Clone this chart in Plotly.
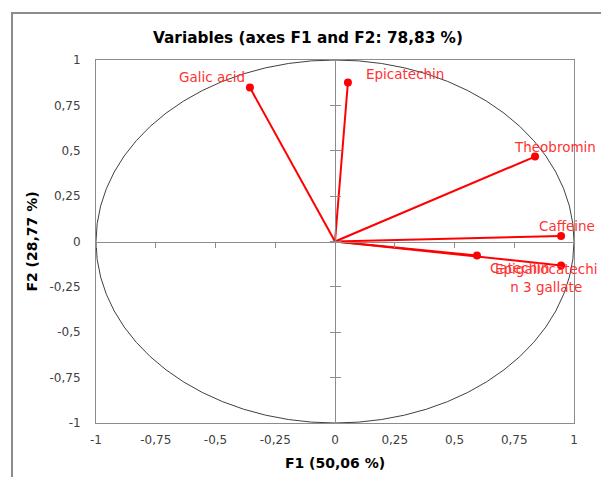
import plotly.graph_objects as go

variables = ["Galic acid", "Epicatechin", "Theobromin", "Caffeine", "Catechin",
             "Epigallocatechi<br>n 3 gallate"]
f1 = [-0.356, 0.054, 0.837, 0.946, 0.594, 0.946]
f2 = [0.848, 0.876, 0.468, 0.030, -0.077, -0.132]

# label offsets (pixels) relative to each point – styling only
label_dx = [-38, 57, 20, 6, 43, -15]
label_dy = [11, 9, 10, 10, -13, -13]

tick_vals = [-1, -0.75, -0.5, -0.25, 0, 0.25, 0.5, 0.75, 1]
tick_text = ["-1", "-0,75", "-0,5", "-0,25", "0", "0,25", "0,5", "0,75", "1"]

title_text = "Variables (axes F1 and F2: 78,83 %)"
x_title = "F1 (50,06 %)"
y_title = "F2 (28,77 %)"

RED = "#ff0000"
GRAY = "#8c8c8c"
FONT = "DejaVu Sans"

# vectors from origin
vx, vy = [], []
for a, b in zip(f1, f2):
    vx += [0, a, None]
    vy += [0, b, None]

fig = go.Figure()
fig.add_trace(go.Scatter(x=vx, y=vy, mode="lines", line=dict(color=RED, width=2),
                         hoverinfo="skip", showlegend=False))
fig.add_trace(go.Scatter(x=f1, y=f2, mode="markers",
                         marker=dict(color=RED, size=8), cliponaxis=False,
                         showlegend=False))
# helper traces so the centred tick axes are drawn
fig.add_trace(go.Scatter(x=[None], y=[None], xaxis="x2", yaxis="y2", showlegend=False))
fig.add_trace(go.Scatter(x=[None], y=[None], xaxis="x2", yaxis="y3", showlegend=False))

for name, a, b, dx, dy in zip(variables, f1, f2, label_dx, label_dy):
    fig.add_annotation(x=a, y=b, text=name, showarrow=False, xanchor="center",
                       yanchor="middle", xshift=dx, yshift=dy,
                       font=dict(family=FONT, size=13.5, color="#ff3333"))

# unit correlation circle
fig.add_shape(type="circle", xref="x", yref="y", x0=-1, y0=-1, x1=1, y1=1,
              line=dict(color="#404040", width=1), layer="below")
# outer chart border
fig.add_shape(type="rect", xref="paper", yref="paper", x0=-0.1757, y0=-0.4,
              x1=1.3, y1=1.1295, line=dict(color=GRAY, width=2), layer="below")

axis_common = dict(range=[-1, 1], tickvals=tick_vals, ticktext=tick_text,
                   showgrid=False, zeroline=False, showline=True, linecolor=GRAY,
                   linewidth=1, mirror=True, automargin=False,
                   tickfont=dict(family=FONT, size=12, color="#404040"))

fig.update_layout(
    width=601, height=477,
    margin=dict(l=96, r=27, t=60, b=54, autoexpand=False),
    paper_bgcolor="white", plot_bgcolor="white",
    title=dict(text=title_text, x=0.4435, xref="paper", xanchor="center",
               y=1 - 38 / 477, yanchor="middle", yref="container",
               font=dict(family=FONT, size=15.3, color="#000000", weight="bold")),
    xaxis=dict(**axis_common, ticks="outside", ticklen=6, tickcolor="rgba(0,0,0,0)",
               title=dict(text=x_title, standoff=11,
                          font=dict(family=FONT, size=14, color="#000", weight="bold"))),
    yaxis=dict(**axis_common, ticks="outside", ticklen=12, tickcolor="rgba(0,0,0,0)",
               title=dict(text=y_title, standoff=8,
                          font=dict(family=FONT, size=14, color="#000", weight="bold"))),
    xaxis2=dict(range=[-1, 1], tickvals=tick_vals, overlaying="x", anchor="free",
                position=0.5, showline=True, linecolor=GRAY, linewidth=1,
                ticks="outside", ticklen=5, tickcolor=GRAY, showticklabels=False,
                showgrid=False, zeroline=False),
    yaxis2=dict(range=[-1, 1], tickvals=tick_vals, overlaying="y", anchor="free",
                position=0.5, side="left", showline=True, linecolor=GRAY, linewidth=1,
                ticks="outside", ticklen=5, tickcolor=GRAY, showticklabels=False,
                showgrid=False, zeroline=False),
    yaxis3=dict(range=[-1, 1], tickvals=tick_vals, overlaying="y", anchor="free",
                position=0.5, side="left", showline=False,
                ticks="inside", ticklen=5, tickcolor=GRAY, showticklabels=False,
                showgrid=False, zeroline=False),
)

fig.write_html("out.html",
               config={"displayModeBar": False},
               post_script="document.body.style.margin='0';"
                           "document.body.style.overflow='hidden';")
